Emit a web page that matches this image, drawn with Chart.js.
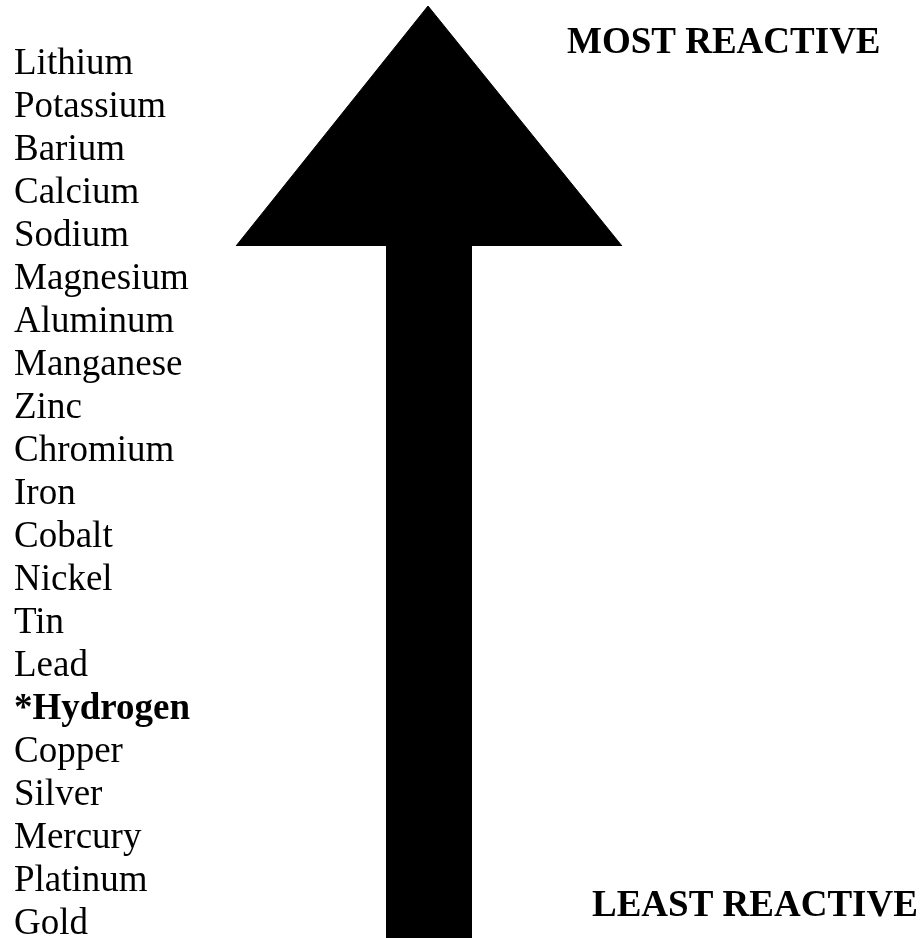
<!DOCTYPE html>
<html>
<head>
<meta charset="utf-8">
<script src="https://cdn.jsdelivr.net/npm/chart.js@4/dist/chart.umd.min.js"></script>
<style>
  html, body { margin: 0; padding: 0; background: #ffffff; }
  #wrap { width: 924px; height: 938px; position: relative; }
</style>
</head>
<body>
<div id="wrap"><canvas id="c"></canvas></div>
<script>
// ---- data ----
const elements = ['Lithium', 'Potassium', 'Barium', 'Calcium', 'Sodium', 'Magnesium',
  'Aluminum', 'Manganese', 'Zinc', 'Chromium', 'Iron', 'Cobalt', 'Nickel', 'Tin',
  'Lead', '*Hydrogen', 'Copper', 'Silver', 'Mercury', 'Platinum', 'Gold'];
const boldElements = ['*Hydrogen'];
const topLabel = 'MOST REACTIVE';
const bottomLabel = 'LEAST REACTIVE';
// arrow outline (in picture units)
const arrowHeadX = [236, 428, 622];
const arrowHeadY = [246, 6, 246];
const shaftX = [386, 472];
const shaftY = [246, 246];
const shaftBottom = 938;

// ---- layout constants ----
const W = 924, H = 938;
const firstRowPx = 64.5, rowStepPx = 43;
const FONT = '"Liberation Serif", "Times New Roman", Times, serif';

const headData = arrowHeadX.map((x, i) => ({ x: x, y: arrowHeadY[i] }));
const shaftData = shaftX.map((x, i) => ({ x: x, y: shaftY[i] }));

const textPlugin = {
  id: 'reactLabels',
  afterDraw(chart) {
    const ctx = chart.ctx;
    const xs = chart.scales.x, ys = chart.scales.y;
    ctx.save();
    ctx.fillStyle = '#000';
    ctx.font = 'bold 37px ' + FONT;
    ctx.textAlign = 'left';
    ctx.textBaseline = 'alphabetic';
    ctx.fillText(topLabel, xs.getPixelForValue(567), ys.getPixelForValue(53));
    ctx.fillText(bottomLabel, xs.getPixelForValue(592), ys.getPixelForValue(916));
    ctx.restore();
  }
};

new Chart(document.getElementById('c'), {
  type: 'line',
  data: {
    datasets: [
      {
        label: 'shaft',
        data: shaftData,
        xAxisID: 'x', yAxisID: 'y',
        borderColor: '#000', backgroundColor: '#000', borderWidth: 1,
        pointRadius: 0, tension: 0,
        fill: { value: shaftBottom }
      },
      {
        label: 'head',
        data: headData,
        xAxisID: 'x', yAxisID: 'y',
        borderColor: '#000', backgroundColor: '#000', borderWidth: 1,
        pointRadius: 0, tension: 0,
        fill: { value: arrowHeadY[0] }
      }
    ]
  },
  options: {
    responsive: true,
    maintainAspectRatio: false,
    animation: false,
    layout: { padding: 0 },
    plugins: { legend: { display: false }, tooltip: { enabled: false }, title: { display: false } },
    scales: {
      x: { type: 'linear', min: 0, max: W, display: false },
      y: { type: 'linear', min: 0, max: H, reverse: true, display: false },
      names: {
        type: 'linear',
        position: 'left',
        reverse: true,
        bounds: 'data',
        min: -firstRowPx / rowStepPx,
        max: (H - firstRowPx) / rowStepPx,
        grid: { display: false, drawTicks: false },
        border: { display: false },
        afterBuildTicks: (scale) => {
          scale.ticks = elements.map((n, i) => ({ value: i }));
        },
        afterFit: (scale) => {
          scale.width = 0;
          scale.paddingTop = 0;
          scale.paddingBottom = 0;
          scale.paddingLeft = 0;
          scale.paddingRight = 0;
        },
        ticks: {
          autoSkip: false,
          mirror: true,
          padding: 14,
          color: '#000',
          callback: (value) => elements[value],
          font: (ctx) => ({
            family: FONT,
            size: 37,
            lineHeight: 1,
            weight: (ctx.tick && boldElements.includes(elements[ctx.tick.value])) ? 'bold' : 'normal'
          })
        }
      }
    }
  },
  plugins: [textPlugin]
});
</script>
</body>
</html>
